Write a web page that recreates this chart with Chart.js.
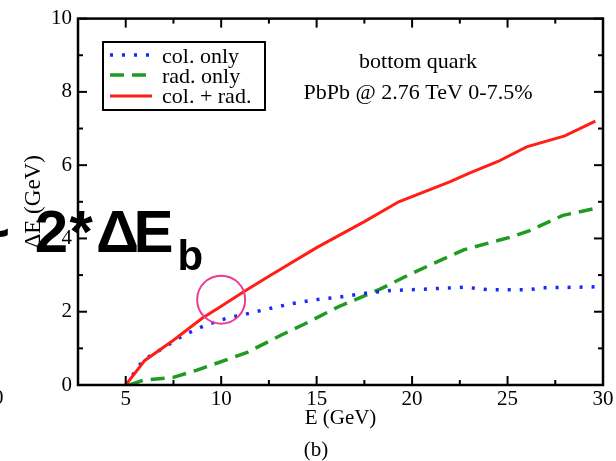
<!DOCTYPE html>
<html>
<head>
<meta charset="utf-8">
<script src="https://cdn.jsdelivr.net/npm/chart.js@4.4.0/dist/chart.umd.min.js"></script>
<style>
html,body{margin:0;padding:0;background:#fff}
canvas{display:block}
</style>
</head>
<body>
<canvas id="eloss" width="616" height="461"></canvas>
<script>
// energy loss of a bottom quark, PbPb @ 2.76 TeV 0-7.5%
const colE   = [5, 5.9, 6.9, 8, 9.2, 10.4, 11.1, 12.3, 13.7, 15, 16.2, 17.5, 18.9, 20, 22.8, 24, 26.1, 26.8, 29.6];
const colLoss= [0, 0.67, 0.99, 1.35, 1.64, 1.84, 1.91, 2.06, 2.22, 2.33, 2.4, 2.5, 2.58, 2.6, 2.67, 2.6, 2.6, 2.65, 2.68];

const radE   = [5.2, 5.9, 7.5, 8.7, 9.8, 11.4, 13.1, 14.5, 16.2, 18.3, 20, 22.7, 25.2, 26.2, 27.1, 27.9, 29.6];
const radLoss= [0, 0.13, 0.21, 0.4, 0.6, 0.9, 1.35, 1.7, 2.15, 2.61, 3.05, 3.69, 4.04, 4.22, 4.44, 4.63, 4.82];

const totE   = [5, 6, 7.5, 9, 10, 11.2, 12.5, 15, 17.5, 19.3, 22, 23, 24.5, 26, 28, 29.6];
const totLoss= [0, 0.67, 1.22, 1.82, 2.15, 2.55, 2.97, 3.75, 4.46, 5.0, 5.55, 5.78, 6.1, 6.5, 6.8, 7.2];

const seriesNames = ['col. only', 'rad. only', 'col. + rad.'];
const xTicks = [5, 10, 15, 20, 25, 30];
const xMinor = [7.5, 12.5, 17.5, 22.5, 27.5];
const yTicks = [0, 2, 4, 6, 8, 10];
const yMinor = [1, 3, 5, 7, 9];
const marked = [{x: 10, y: 2.33}];   // circled point

const pts = (xs, ys) => xs.map((v, i) => ({x: v, y: ys[i]}));
const serif = 'Liberation Serif';

const frame = {
  id: 'frame',
  beforeDraw(chart) {
    const ctx = chart.ctx;
    ctx.save();
    ctx.fillStyle = '#fff';
    ctx.fillRect(0, 0, chart.width, chart.height);
    ctx.restore();
  },
  afterDraw(chart) {
    const {ctx, chartArea: a, scales: {x, y}} = chart;
    ctx.save();
    ctx.strokeStyle = '#000';
    ctx.lineWidth = 2.5;
    ctx.strokeRect(a.left, a.top, a.right - a.left, a.bottom - a.top);
    ctx.lineWidth = 2;
    const seg = (x1, y1, x2, y2) => { ctx.beginPath(); ctx.moveTo(x1, y1); ctx.lineTo(x2, y2); ctx.stroke(); };
    xTicks.concat(xMinor).forEach(v => {
      const len = xTicks.includes(v) ? 9 : 5, p = x.getPixelForValue(v);
      seg(p, a.bottom, p, a.bottom - len);
      seg(p, a.top, p, a.top + len);
    });
    yTicks.concat(yMinor).forEach(v => {
      const len = yTicks.includes(v) ? 9 : 5, p = y.getPixelForValue(v);
      seg(a.left, p, a.left + len, p);
      seg(a.right, p, a.right - len, p);
    });

    // legend box
    ctx.lineWidth = 2;
    ctx.strokeRect(103, 42, 162, 68);
    const rows = [55, 75, 96], txt = [57.5, 77.5, 97];
    ctx.font = '22px ' + serif;
    ctx.fillStyle = '#000';
    ctx.textBaseline = 'middle';
    ctx.textAlign = 'left';
    [0, 1, 2].forEach(i => {
      const ds = chart.data.datasets[i];
      ctx.save();
      ctx.strokeStyle = ds.borderColor;
      ctx.lineWidth = ds.borderWidth;
      ctx.setLineDash(ds.borderDash || []);
      seg(110, rows[i], 152, rows[i]);
      ctx.restore();
      ctx.fillText(ds.label, 162, txt[i]);
    });

    // annotation
    ctx.textAlign = 'center';
    ctx.fillText('bottom quark', 418, 62);
    ctx.fillText('PbPb @ 2.76 TeV 0-7.5%', 418, 93);

    ctx.textBaseline = 'alphabetic';
    ctx.font = '21px ' + serif;
    ctx.fillText('(b)', 316, 456);
    ctx.textAlign = 'left';
    ctx.fillText('0', -7, 404);

    // overlaid note
    ctx.font = 'bold 60px "Liberation Sans"';
    ctx.fillText('~', -25, 252);
    ctx.fillText('2', 34.7, 252);
    ctx.fillText('*', 69.5, 252);
    ctx.fillText('\u0394', 96, 252);
    ctx.fillText('E', 133.5, 252);
    ctx.font = 'bold 42px "Liberation Sans"';
    ctx.fillText('b', 177.5, 270);
    ctx.restore();
  }
};

new Chart(document.getElementById('eloss'), {
  type: 'scatter',
  data: {
    datasets: [
      {
        label: seriesNames[0],
        data: pts(colE, colLoss),
        showLine: true,
        borderColor: '#1428ff',
        borderWidth: 3.5,
        borderDash: [3, 9],
        pointRadius: 0,
        order: 1
      },
      {
        label: seriesNames[1],
        data: pts(radE, radLoss),
        showLine: true,
        borderColor: '#1f9a22',
        borderWidth: 3.5,
        borderDash: [14, 8],
        pointRadius: 0,
        order: 2
      },
      {
        label: seriesNames[2],
        data: pts(totE, totLoss),
        showLine: true,
        borderColor: '#ff1f14',
        borderWidth: 3,
        pointRadius: 0,
        order: 0
      },
      {
        label: 'mark',
        data: marked,
        showLine: false,
        pointRadius: 24,
        pointBackgroundColor: 'rgba(0,0,0,0)',
        pointBorderColor: '#ec3c95',
        pointBorderWidth: 2,
        clip: false,
        order: -1
      }
    ]
  },
  options: {
    responsive: false,
    animation: false,
    devicePixelRatio: 1,
    // big marker radius would otherwise push the plot area in
    layout: {autoPadding: false, padding: {top: 14, right: 13, left: 0, bottom: 0}},
    plugins: {legend: {display: false}, tooltip: {enabled: false}},
    scales: {
      x: {
        type: 'linear',
        min: 2.5,
        max: 30,
        afterBuildTicks: s => { s.ticks = xTicks.map(v => ({value: v})); },
        afterFit: s => { s.height = 76; },
        grid: {display: false, drawTicks: false},
        border: {display: false},
        ticks: {color: '#000', padding: 2, font: {family: serif, size: 21}},
        title: {display: true, text: 'E (GeV)', color: '#000', padding: {top: 0, bottom: 30}, font: {family: serif, size: 21}}
      },
      y: {
        type: 'linear',
        min: 0,
        max: 10,
        afterBuildTicks: s => { s.ticks = yTicks.map(v => ({value: v})); },
        afterFit: s => { s.width = 78; },
        grid: {display: false, drawTicks: false},
        border: {display: false},
        ticks: {color: '#000', padding: 6, font: {family: serif, size: 21}},
        title: {display: true, text: '\u0394E (GeV)', color: '#000', padding: {top: 20, bottom: 0}, font: {family: serif, size: 23}}
      }
    }
  },
  plugins: [frame]
});
</script>
</body>
</html>
